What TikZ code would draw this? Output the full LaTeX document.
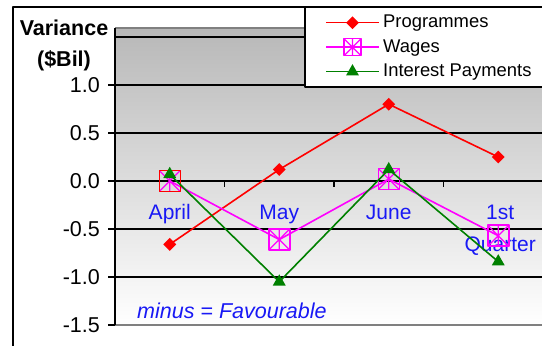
\documentclass[tikz,border=0pt]{standalone}
\usepackage{fontspec}
\setmainfont{Liberation Sans}
\usetikzlibrary{shapes.geometric}
\definecolor{intgreen}{RGB}{0,128,0}
\definecolor{areagray}{RGB}{184,184,184}
\definecolor{catblue}{RGB}{25,25,245}
\definecolor{wagemag}{RGB}{255,0,255}
\definecolor{progred}{RGB}{255,0,0}
\begin{document}
\begin{tikzpicture}[x=1pt, y=1pt, line join=round,
  declare function={cx(\i)=115+109.5*(\i-0.5); vy(\v)=165+96*\v;},
  grid/.style={black, line width=1.2pt},
  ticklabel/.style={font=\fontsize{21.5}{26}\selectfont, anchor=base east, inner sep=0pt},
  catlabel/.style={font=\fontsize{21}{32}\selectfont, text=catblue, anchor=base, inner sep=0pt},
  prog line/.style={progred, line width=1.6pt},
  wage line/.style={wagemag, line width=1.6pt},
  int line/.style={intgreen, line width=1.6pt},
  prog mark/.style={diamond, fill=progred, inner sep=0pt, minimum size=13pt},
  wage mark/.style={rectangle, draw=wagemag, line width=1.5pt, minimum size=21pt, inner sep=0pt,
    path picture={\draw[wagemag, line width=1.2pt]
      (path picture bounding box.south west) -- (path picture bounding box.north east)
      (path picture bounding box.north west) -- (path picture bounding box.south east)
      (path picture bounding box.north) -- (path picture bounding box.south);}},
  int mark/.style={regular polygon, regular polygon sides=3, fill=intgreen, inner sep=0pt, minimum size=15pt}]
  \clip (0,0) rectangle (542,346);
  \shade[top color=areagray, bottom color=white] (115,21) rectangle (542,318);
  \draw[gray, line width=1.5pt] (115,318) -- (542,318);
  \draw[gray, line width=2pt] (115,21) -- (542,21);
  \foreach \v in {1.5,1,0.5,-0.5,-1} \draw[grid] (115,{vy(\v)}) -- (542,{vy(\v)});
  \draw[line width=2pt] (115,{vy(0)}) -- (542,{vy(0)});
  \foreach \i in {1,2,3} \draw[line width=1.2pt] ({115+109.5*\i},{vy(0)}) -- ++(0,-6);
  \draw[line width=2pt] (115,21) -- (115,318);
  \foreach \v/\t [count=\k] in {1/1.0,0.5/0.5,0/0.0,-0.5/-0.5,-1/-1.0,-1.5/-1.5} {
    \draw[line width=1.2pt] (108,{vy(\v)}) -- (115,{vy(\v)});
    \node[ticklabel] (ylab\k) at (100,{vy(\v)-7.5}) {\t};
  }
  \draw[line width=2pt] (13,-2) -- (13,339) -- (545,339);
  \node[font=\bfseries\fontsize{21.5}{26}\selectfont, anchor=base, inner sep=0pt] (title) at (64,310) {Variance};
  \node[font=\bfseries\fontsize{21.5}{26}\selectfont, anchor=base, inner sep=0pt] (unit) at (64,279) {(\$Bil)};
  \foreach \n/\t [count=\i] in {apr/April, may/May, jun/June}
    \node[catlabel] (\n) at ({cx(\i)},126.7) {\t};
  \node[catlabel, align=center] (qtr) at ({cx(4)+2},94.5) {1st\\Quarter};
  \node[font=\itshape\fontsize{21.5}{26}\selectfont, text=catblue, anchor=base west, inner sep=0pt] (note) at (137,27) {minus = Favourable};
  \foreach \a/\b/\c [count=\i] in {-0.66/0/0.07, 0.12/-0.61/-1.05, 0.8/0.02/0.12, 0.25/-0.57/-0.84} {
    \coordinate (p\i) at ({cx(\i)},{vy(\a)});
    \coordinate (w\i) at ({cx(\i)},{vy(\b)});
    \coordinate (g\i) at ({cx(\i)},{vy(\c)});
  }
  \draw[prog line] (p1) -- (p2) -- (p3) -- (p4);
  \foreach \i in {1,...,4} \node[prog mark] (pm\i) at (p\i) {};
  \draw[wage line] (w1) -- (w2) -- (w3) -- (w4);
  \node[wage mark, draw=progred] (wm1) at (w1) {};
  \foreach \i in {2,3,4} \node[wage mark] (wm\i) at (w\i) {};
  \draw[int line] (g1) -- (g2) -- (g3) -- (g4);
  \foreach \i in {1,...,4} \node[int mark] (gm\i) at (g\i) {};
  \draw[line width=2pt, fill=white] (305,259) rectangle (550,339);
  \foreach \s/\m/\t [count=\k] in {prog/13/Programmes, wage/17/Wages, int/15/Interest Payments} {
    \coordinate (la\k) at (326,{323.3-24.5*(\k-1)});
    \coordinate (lb\k) at (379,{323.3-24.5*(\k-1)});
    \draw[\s\space line] (la\k) -- (lb\k);
    \node[\s\space mark, minimum size=\m pt] (lm\k) at (352.5,{323.3-24.5*(\k-1)}) {};
    \node[font=\fontsize{18.4}{22}\selectfont, anchor=base west, inner sep=0pt] (lt\k) at (383,{318-24.5*(\k-1)}) {\t};
  }
\end{tikzpicture}
\end{document}
